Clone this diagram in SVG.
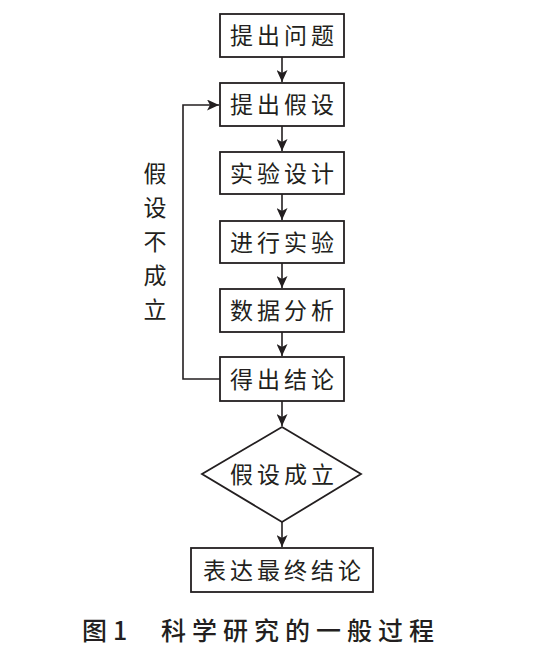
<svg xmlns="http://www.w3.org/2000/svg" width="549" height="657" viewBox="0 0 549 657">
<style>
.box{fill:#fff;stroke:#231f20;stroke-width:1.8}
.t{font-family:"Noto Sans CJK SC",sans-serif;font-size:23px;fill:#231f20;text-anchor:middle;letter-spacing:4px}
.ln{fill:none;stroke:#231f20;stroke-width:1.6}
.cap{font-family:"Noto Sans CJK SC",sans-serif;font-size:25px;font-weight:500;fill:#231f20;letter-spacing:6px}
</style>
<defs>
<marker id="ah" viewBox="0 0 12 11" refX="12" refY="5.5" markerWidth="12" markerHeight="11" markerUnits="userSpaceOnUse" orient="auto">
<path d="M0,0 L12,5.5 L0,11 L3,5.5 Z" fill="#231f20"/>
</marker>
</defs>
<rect width="549" height="657" fill="#fff"/>
<g id="connectors">
<line class="ln" x1="282" y1="57" x2="282" y2="82" marker-end="url(#ah)"/>
<line class="ln" x1="282" y1="126" x2="282" y2="151" marker-end="url(#ah)"/>
<line class="ln" x1="282" y1="194" x2="282" y2="220" marker-end="url(#ah)"/>
<line class="ln" x1="282" y1="263" x2="282" y2="288" marker-end="url(#ah)"/>
<line class="ln" x1="282" y1="332" x2="282" y2="356" marker-end="url(#ah)"/>
<line class="ln" x1="282" y1="401" x2="282" y2="426" marker-end="url(#ah)"/>
<line class="ln" x1="282" y1="522" x2="282" y2="547" marker-end="url(#ah)"/>
<polyline class="ln" points="220,379 183,379 183,105 219,105" marker-end="url(#ah)"/>
<g id="loop-label" class="t" style="letter-spacing:0">
<text x="155" y="182">假</text>
<text x="155" y="216">设</text>
<text x="155" y="250">不</text>
<text x="155" y="284">成</text>
<text x="155" y="318">立</text>
</g>
</g>
<g id="n1"><rect class="box" x="220" y="14" width="124" height="43"/><text class="t" x="284" y="44">提出问题</text></g>
<g id="n2"><rect class="box" x="220" y="83" width="124" height="43"/><text class="t" x="284" y="113">提出假设</text></g>
<g id="n3"><rect class="box" x="220" y="152" width="124" height="42"/><text class="t" x="284" y="182">实验设计</text></g>
<g id="n4"><rect class="box" x="220" y="221" width="124" height="42"/><text class="t" x="284" y="251">进行实验</text></g>
<g id="n5"><rect class="box" x="220" y="289" width="124" height="43"/><text class="t" x="284" y="319">数据分析</text></g>
<g id="n6"><rect class="box" x="220" y="357" width="124" height="44"/><text class="t" x="284" y="388">得出结论</text></g>
<g id="n7"><polygon class="box" points="282,427 361,474 282,522 202,474"/><text class="t" x="284" y="483">假设成立</text></g>
<g id="n8"><rect class="box" x="191" y="548" width="182" height="44"/><text class="t" x="284" y="579">表达最终结论</text></g>
<g id="caption">
<text class="cap" x="82" y="640">图1</text>
<text class="cap" x="161" y="640">科学研究的一般过程</text>
</g>
</svg>
